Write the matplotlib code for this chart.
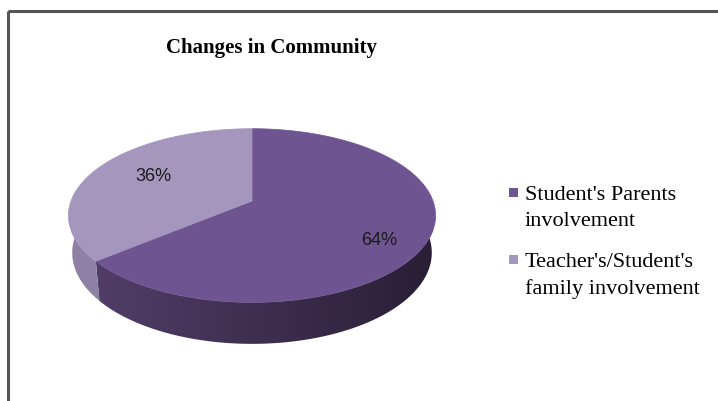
import numpy as np
import matplotlib.pyplot as plt
from matplotlib.patches import Polygon, Rectangle

# data
labels = ["Student's Parents\ninvolvement", "Teacher's/Student's\nfamily involvement"]
values = [64, 36]
pct_labels = ["64%", "36%"]
top_colors = ["#6e5591", "#a596be"]
side_left = [(0.33, 0.25, 0.42), (0.56, 0.51, 0.65)]
side_right = [(0.16, 0.12, 0.21), (0.52, 0.48, 0.62)]

# view / layout (pixels)
W, H = 718, 402
cx, cy, scale = 252, 202, 181
elev = np.radians(27.8)
dist = 5.28
depth = 0.234


def project(x, y, z):
    s, c = np.sin(elev), np.cos(elev)
    v = y * s + z * c
    w = -y * c + z * s
    f = dist / (dist - w)
    return cx + scale * x * f, cy - scale * v * f


fig = plt.figure(figsize=(W / 100, H / 100), dpi=100)
ax = fig.add_axes([0, 0, 1, 1])
ax.set_xlim(0, W)
ax.set_ylim(H, 0)
ax.axis("off")

# chart frame
ax.add_patch(Rectangle((8, 12), W, H, fill=False, edgecolor="#555555", lw=2.2))

# slice angles: first slice clockwise from 12 o'clock
fracs = np.array(values) / sum(values)
starts = np.pi / 2 - np.concatenate([[0], np.cumsum(fracs)[:-1]]) * 2 * np.pi
ends = starts - fracs * 2 * np.pi

# side walls (front half only), filled with a horizontal gradient
for i in range(len(values)):
    a0, a1 = max(ends[i], -np.pi), min(starts[i], 0.0)
    if a0 >= a1:
        continue
    ts = np.linspace(a0, a1, 200)
    top = [project(np.cos(t), np.sin(t), 0) for t in ts]
    bot = [project(np.cos(t), np.sin(t), -depth) for t in ts[::-1]]
    poly = Polygon(top + bot, closed=True, facecolor="none", edgecolor="none")
    ax.add_patch(poly)
    k = np.linspace(0, 1, 256)
    grad = np.array(side_left[i])[None, :] * (1 - k[:, None]) + np.array(side_right[i])[None, :] * k[:, None]
    x_lo, _ = project(-1, 0, 0)
    x_hi, _ = project(1, 0, 0)
    _, y_hi = project(0, -1, -depth)
    _, y_lo = project(0, 1, 0)
    im = ax.imshow(grad[None, :, :], extent=(x_lo, x_hi, y_hi + 2, y_lo), aspect="auto",
                   interpolation="bilinear", zorder=1)
    im.set_clip_path(poly)

# top faces
for i in range(len(values)):
    ts = np.linspace(starts[i], ends[i], 200)
    pts = [project(0, 0, 0)] + [project(np.cos(t), np.sin(t), 0) for t in ts]
    ax.add_patch(Polygon(pts, closed=True, facecolor=top_colors[i],
                         edgecolor=top_colors[i], lw=0.5, zorder=2))

# percent labels
label_r = [0.78, 0.66]
label_shift = [np.radians(-8), np.radians(-4)]
for i in range(len(values)):
    m = (starts[i] + ends[i]) / 2 + label_shift[i]
    px, py = project(label_r[i] * np.cos(m), label_r[i] * np.sin(m), 0)
    ax.text(px, py, pct_labels[i], ha="center", va="center", fontsize=13,
            family="Liberation Sans", color="#1a1a1a", zorder=3)

ax.text(272, 48, "Changes in Community", ha="center", va="center",
        fontsize=15, fontweight="bold", family="Liberation Serif")

# legend
leg_x, leg_y, leg_step = 509, 186, 67
for i, lab in enumerate(labels):
    y = leg_y + i * leg_step
    ax.add_patch(Rectangle((leg_x, y + 3), 9, 9, facecolor=top_colors[i], edgecolor="none"))
    ax.text(leg_x + 16, y, lab, ha="left", va="top", fontsize=16,
            family="Liberation Serif", linespacing=1.5)

fig.savefig("out.png", dpi=100)
